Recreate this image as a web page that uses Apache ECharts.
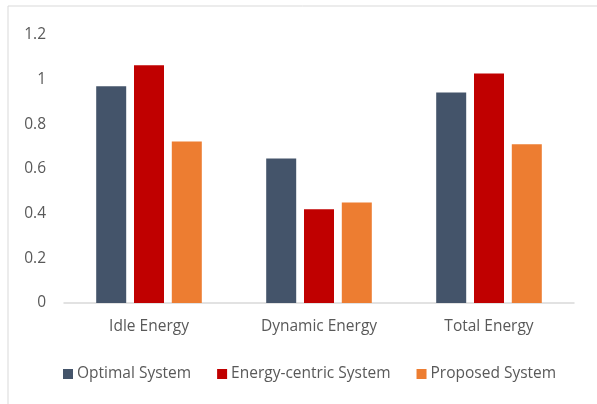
<!DOCTYPE html>
<html>
<head>
<meta charset="utf-8">
<script src="https://cdn.jsdelivr.net/npm/echarts@6/dist/echarts.min.js"></script>
<style>
  html, body { margin: 0; padding: 0; background: #fff; }
  #main { width: 597px; height: 404px; }
</style>
</head>
<body>
<div id="main"></div>
<script>
var categories = ['Idle Energy', 'Dynamic Energy', 'Total Energy'];
var seriesNames = ['Optimal System', 'Energy-centric System', 'Proposed System'];
var optimalValues = [0.97, 0.647, 0.943];
var energyCentricValues = [1.065, 0.42, 1.028];
var proposedValues = [0.723, 0.45, 0.711];
var yTicks = { min: 0, max: 1.2, interval: 0.2 };

var colors = ['#44546A', '#C00000', '#ED7D31'];
var font = 'Open Sans';

var myChart = echarts.init(document.getElementById('main'));

var option = {
  animation: false,
  color: colors,
  // chart frame (only top and left edges are visible)
  graphic: [
    { type: 'line', shape: { x1: 8, y1: 6, x2: 597, y2: 6 }, style: { stroke: '#d9d9d9', lineWidth: 1 } },
    { type: 'line', shape: { x1: 8, y1: 6, x2: 8, y2: 404 }, style: { stroke: '#d9d9d9', lineWidth: 1 } }
  ],
  grid: { left: 64, right: 23, top: 35, bottom: 101 },
  legend: {
    data: seriesNames,
    bottom: 17,
    left: 58,
    itemWidth: 10,
    itemHeight: 10,
    itemGap: 26,
    icon: 'rect',
    textStyle: { fontFamily: font, fontSize: 15.5, color: '#595959', padding: [0, 0, 0, -1] }
  },
  xAxis: {
    type: 'category',
    data: categories,
    axisLine: { lineStyle: { color: '#d9d9d9', width: 1.5 } },
    axisTick: { show: false },
    axisLabel: { fontFamily: font, fontSize: 15.5, color: '#595959', margin: 16 }
  },
  yAxis: {
    type: 'value',
    min: yTicks.min,
    max: yTicks.max,
    interval: yTicks.interval,
    splitLine: { show: false },
    axisLine: { show: false },
    axisTick: { show: false },
    axisLabel: { fontFamily: font, fontSize: 15.5, color: '#595959', margin: 18 }
  },
  series: [
    { name: seriesNames[0], type: 'bar', data: optimalValues, barWidth: 30, barGap: '26%' },
    { name: seriesNames[1], type: 'bar', data: energyCentricValues, barWidth: 30, barGap: '26%' },
    { name: seriesNames[2], type: 'bar', data: proposedValues, barWidth: 30, barGap: '26%' }
  ]
};

myChart.setOption(option);
</script>
</body>
</html>
